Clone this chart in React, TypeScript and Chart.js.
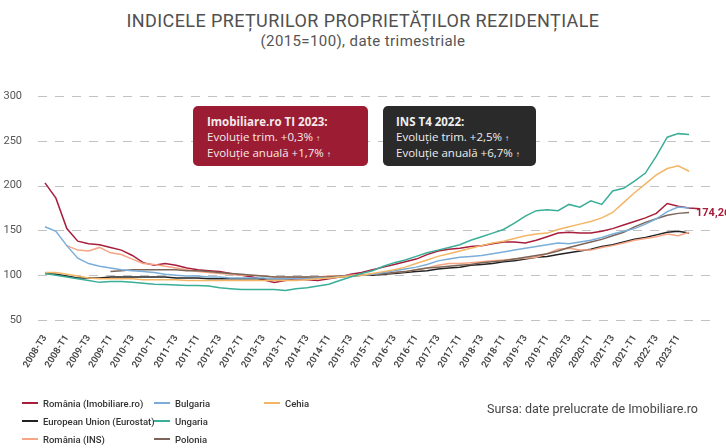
import React, { useEffect, useRef } from 'react';
import { Chart, registerables } from 'chart.js';

Chart.register(...registerables);

const categories = [
  '2008-T1','2008-T2','2008-T3','2008-T4','2009-T1','2009-T2','2009-T3','2009-T4',
  '2010-T1','2010-T2','2010-T3','2010-T4','2011-T1','2011-T2','2011-T3','2011-T4',
  '2012-T1','2012-T2','2012-T3','2012-T4','2013-T1','2013-T2','2013-T3','2013-T4',
  '2014-T1','2014-T2','2014-T3','2014-T4','2015-T1','2015-T2','2015-T3','2015-T4',
  '2016-T1','2016-T2','2016-T3','2016-T4','2017-T1','2017-T2','2017-T3','2017-T4',
  '2018-T1','2018-T2','2018-T3','2018-T4','2019-T1','2019-T2','2019-T3','2019-T4',
  '2020-T1','2020-T2','2020-T3','2020-T4','2021-T1','2021-T2','2021-T3','2021-T4',
  '2022-T1','2022-T2','2022-T3','2022-T4','2023-T1',
];

const tickLabels = [
  '2008-T3','2008-T1','2009-T3','2009-T1','2010-T3','2010-T1','2011-T3','2011-T1',
  '2012-T3','2012-T1','2013-T3','2013-T1','2014-T3','2014-T1','2015-T3','2015-T1',
  '2016-T3','2016-T1','2017-T3','2017-T1','2018-T3','2018-T1','2019-T3','2019-T1',
  '2020-T3','2020-T1','2021-T3','2021-T1','2022-T3','2023-T1',
];

const yTicks = [50, 100, 150, 200, 250, 300];

const romaniaImobiliare = [203,186,152,138,135,134,131,128,122,114,111,113,111,108,106,105,104,102,100,98,95,92,94,96,95,94,96,98,101,103,106,109,112,115,118,123,127,129,130,132,133,135,137,137,136,139,143,147,148,147,147,149,152,156,160,164,169,180,177,175,174.26];
const ungaria = [102,100,98,96,94,92,93,93,92,91,90,89.5,89,88.5,88.5,88,86,85,84,84,84,84,83,85,86,88,90,94,98,102,105,110,114,117,121,125,128,131,134,139,143,147,151,158,166,172,173,172,179,176,183,179,194,197,205,214,233,254,258,257,null];
const cehia = [103,103,101,99,97,96,96,96,96,95,95,95,95,94,94,94,94,94,94,94,94,94,94,94,95,96,97,98,99,100,102,104,106,109,113,117,121,124,127,130,133,136,138,141,144,146,147,151,154,157,160,164,170,181,192,202,212,219,222,216,null];
const bulgaria = [154,149,133,119,113,110,108,106,105,104,103,101,100,99,99,98,98,97,97,97,97,96,96,96,96,97,97,98,99,100,101,103,105,107,109,112,116,118,120,121,122,124,126,128,130,132,134,136,135,137,139,142,146,149,152,157,163,171,176,175,null];
const polonia = [null,null,null,null,null,null,104,105,106,106,106,106,106,105,105,104,103,102,101,100,99,98,98,98,98,98,98,99,99,100,101,102,103,104,106,108,109,110,111,112,114,115,116,118,120,122,124,127,131,134,137,140,144,148,154,159,163,167,169,170,null];
const europeanUnion = [102,101,99,97,97,97,98,98,98,98,98,98,97,97,97,96,96,96,96,96,96,96,96,97,97,97,98,98,99,100,100,101,102,103,104,105,107,108,109,111,112,113,115,116,118,120,121,123,125,127,129,132,134,137,140,142,145,148,149,147,null];
const romaniaIns = [null,null,133,128,127,131,125,123,118,113,112,110,108,106,104,103,102,101,100,100,99,98,98,98,98,98,99,99,100,100,101,102,103,104,106,108,111,113,113,114,115,116,117,118,119,120,124,129,130,128,128,131,133,136,139,141,143,146,144,148,null];

const seriesNames = ['România (Imobiliare.ro)', 'Bulgaria', 'Cehia', 'European Union (Eurostat)', 'Ungaria', 'România (INS)', 'Polonia'];
const seriesValues = [romaniaImobiliare, bulgaria, cehia, europeanUnion, ungaria, romaniaIns, polonia];
const seriesColors = ['#a61e3c', '#7aaed8', '#f4b565', '#222222', '#3aae98', '#f6a585', '#7b6559'];
const drawOrder = [4, 2, 1, 6, 5, 3, 0];

const lastValueLabel = '174,26';

const FONT = 'Roboto, "Open Sans", sans-serif';

const dashedGridPlugin = {
  id: 'dashedGrid',
  beforeDatasetsDraw(chart: any) {
    const { ctx, chartArea, scales } = chart;
    ctx.save();
    ctx.strokeStyle = '#c2c2c2';
    ctx.lineWidth = 1;
    ctx.setLineDash([9, 8]);
    yTicks.forEach((v) => {
      const y = Math.round(scales.y.getPixelForValue(v)) + 0.5;
      ctx.beginPath();
      ctx.moveTo(chartArea.left, y);
      ctx.lineTo(chartArea.right, y);
      ctx.stroke();
    });
    ctx.restore();
  },
};

const lastLabelPlugin = {
  id: 'lastLabel',
  afterDatasetsDraw(chart: any) {
    const idx = chart.data.datasets.findIndex((d: any) => d.label === seriesNames[0]);
    const meta = chart.getDatasetMeta(idx);
    const pts = meta.data;
    const p = pts[pts.length - 1];
    if (!p) return;
    const ctx = chart.ctx;
    ctx.save();
    ctx.font = `bold 11px ${FONT}`;
    ctx.fillStyle = seriesColors[0];
    ctx.textAlign = 'left';
    ctx.textBaseline = 'middle';
    ctx.fillText(lastValueLabel, p.x - 4, p.y + 5);
    ctx.restore();
  },
};

export default function App() {
  const canvasRef = useRef<HTMLCanvasElement>(null);

  useEffect(() => {
    const canvas = canvasRef.current;
    if (!canvas) return;
    const datasets = drawOrder.map((si) => ({
      label: seriesNames[si],
      data: seriesValues[si].map((v, i) => ({ x: i, y: v })),
      borderColor: seriesColors[si],
      backgroundColor: seriesColors[si],
      borderWidth: 1.5,
      pointRadius: 0,
      tension: 0,
      fill: false,
    }));
    const chart = new Chart(canvas, {
      type: 'line',
      data: { datasets },
      plugins: [dashedGridPlugin, lastLabelPlugin],
      options: {
        responsive: false,
        animation: false,
        layout: { padding: { left: 0, right: 14, top: 96, bottom: 68 } },
        plugins: {
          legend: { display: false },
          tooltip: { enabled: false },
          title: { display: false },
        },
        scales: {
          x: {
            type: 'linear',
            min: -0.64,
            max: 61.1,
            grid: { display: false },
            border: { display: false },
            afterBuildTicks: (axis: any) => {
              axis.ticks = tickLabels.map((_, i) => ({ value: i * 2 }));
            },
            afterFit: (axis: any) => {
              axis.height = 60;
            },
            ticks: {
              autoSkip: false,
              maxRotation: 58,
              minRotation: 58,
              padding: 5,
              color: '#444',
              font: { family: FONT, size: 9.5, weight: 600 },
              callback: (v: any) => tickLabels[Math.round(Number(v) / 2)] ?? '',
            },
          },
          y: {
            min: yTicks[0],
            max: yTicks[yTicks.length - 1],
            afterBuildTicks: (axis: any) => {
              axis.ticks = yTicks.map((v) => ({ value: v }));
            },
            afterFit: (axis: any) => {
              axis.width = 38;
            },
            grid: { display: false },
            border: { display: false },
            ticks: {
              padding: 8,
              color: '#555',
              font: { family: FONT, size: 11 },
            },
          },
        },
      },
    });
    return () => chart.destroy();
  }, []);

  const legendCols = [
    [0, 3, 5],
    [1, 4, 6],
    [2],
  ];
  const colX = [22, 154, 264];

  return (
    <div style={{ position: 'fixed', left: 0, top: 0, width: 726, height: 448, background: '#fff', overflow: 'hidden', fontFamily: FONT }}>
      <div style={{ position: 'absolute', left: 0, top: 10, width: 726, textAlign: 'center', fontSize: 18, color: '#505050', letterSpacing: 0.4, lineHeight: '22px' }}>
        INDICELE PREȚURILOR PROPRIETĂȚILOR REZIDENȚIALE
      </div>
      <div style={{ position: 'absolute', left: 0, top: 32, width: 726, textAlign: 'center', fontSize: 15, color: '#555', letterSpacing: 0.4, lineHeight: '18px' }}>
        (2015=100), date trimestriale
      </div>
      <canvas ref={canvasRef} width={726} height={448} style={{ position: 'absolute', left: 0, top: 0, width: 726, height: 448 }} />
      <div style={{ position: 'absolute', left: 193, top: 106, width: 175, height: 60, background: '#9b1c33', borderRadius: 5, color: '#f6eaea', fontFamily: '"Open Sans", sans-serif', fontSize: 11.5, lineHeight: '15px', padding: '8px 0 0 14px', boxSizing: 'border-box' }}>
        <div style={{ fontWeight: 700 }}>Imobiliare.ro TI 2023:</div>
        <div>Evoluție trim. +0,3% <span style={{ fontSize: 8 }}>↑</span></div>
        <div>Evoluție anuală +1,7% <span style={{ fontSize: 8 }}>↑</span></div>
      </div>
      <div style={{ position: 'absolute', left: 383, top: 106, width: 153, height: 60, background: '#2a2a2a', borderRadius: 5, color: '#eeeeee', fontFamily: '"Open Sans", sans-serif', fontSize: 11.5, lineHeight: '15px', padding: '8px 0 0 13px', boxSizing: 'border-box' }}>
        <div style={{ fontWeight: 700 }}>INS T4 2022:</div>
        <div>Evoluție trim. +2,5% <span style={{ fontSize: 8 }}>↑</span></div>
        <div>Evoluție anuală +6,7% <span style={{ fontSize: 8 }}>↑</span></div>
      </div>
      {legendCols.map((col, ci) =>
        col.map((si, ri) => (
          <div key={`${ci}-${ri}`} style={{ position: 'absolute', left: colX[ci], top: 397 + ri * 18, height: 12, display: 'flex', alignItems: 'center', fontSize: 9.5, fontWeight: 500, color: '#333', whiteSpace: 'nowrap' }}>
            <span style={{ display: 'inline-block', width: 16, height: 2, background: seriesColors[si], marginRight: 5 }} />
            {seriesNames[si]}
          </div>
        ))
      )}
      <div style={{ position: 'absolute', left: 487, top: 401, fontSize: 12.5, color: '#444', whiteSpace: 'nowrap' }}>
        Sursa: date prelucrate de Imobiliare.ro
      </div>
    </div>
  );
}
